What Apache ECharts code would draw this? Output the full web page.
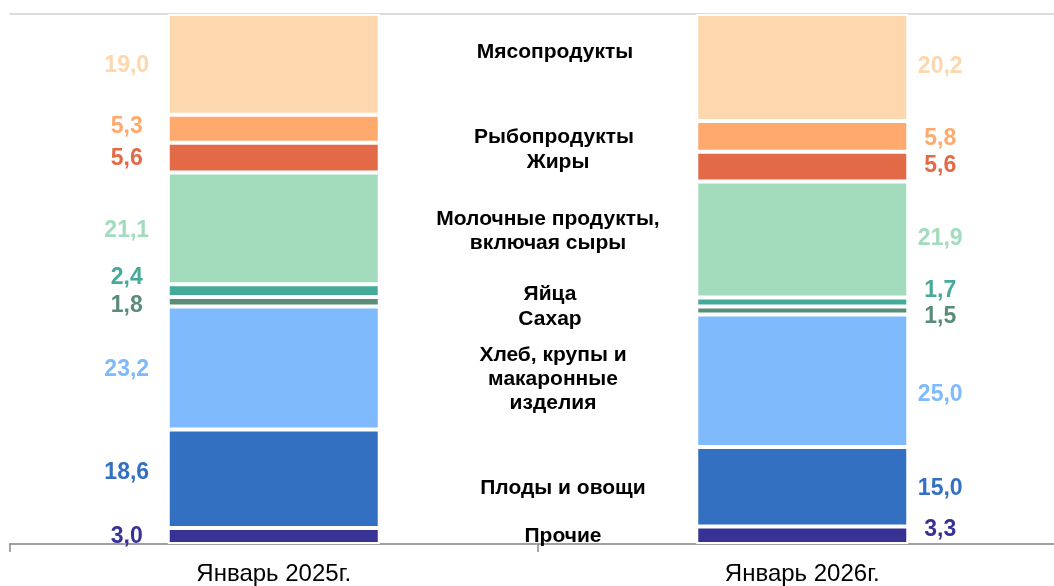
<!DOCTYPE html>
<html><head><meta charset="utf-8">
<script src="https://cdn.jsdelivr.net/npm/echarts@6/dist/echarts.min.js"></script>
<style>html,body{margin:0;padding:0;background:#fff;overflow:hidden}#c{width:1067px;height:586px}</style>
</head><body><div id="c"></div>
<script>
// Data (stack order bottom -> top)
const periods = ['Январь 2025г.', 'Январь 2026г.'];
const groups = ['Прочие', 'Плоды и овощи', 'Хлеб, крупы и\nмакаронные\nизделия', 'Сахар', 'Яйца',
  'Молочные продукты,\nвключая сыры', 'Жиры', 'Рыбопродукты', 'Мясопродукты'];
const v2025 = [3.0, 18.6, 23.2, 1.8, 2.4, 21.1, 5.6, 5.3, 19.0];
const v2026 = [3.3, 15.0, 25.0, 1.5, 1.7, 21.9, 5.6, 5.8, 20.2];

// Styles
const colors = ['#373293', '#3470C2', '#7EBAFC', '#5A8C78', '#46AA98', '#A3DCBD', '#E36A47', '#FEA96E', '#FDD7AD'];
const leftDy = [1, -6, 2, 4, -13, 2, 1, -2, 1];
const rightDy = [-6, 2, 14, 6, -11, -1, -1, 2, -1];
const nameDx = [25, 25, 15, 12, 12, 10, 20, 16, 17];
const nameDy = [1, 5, 5, 13, -2, -3, 0, 5, -14];
const FONT = "'Liberation Sans', Arial, sans-serif";

const fmt = v => v.toFixed(1).replace('.', ',');
function cum(arr) { const r = []; let s = 0; arr.forEach(v => { r.push(s + v / 2); s += v; }); return r; }
const mid25 = cum(v2025), mid26 = cum(v2026);

const chart = echarts.init(document.getElementById('c'));
const series = groups.map((g, k) => ({
  type: 'bar', name: g, stack: 'all', barWidth: 212,
  itemStyle: { color: colors[k], borderColor: '#fff', borderWidth: 2 },
  data: [
    { value: v2025[k], label: { show: true, position: 'left', distance: 41, align: 'center', verticalAlign: 'middle',
      offset: [0, leftDy[k]], formatter: p => fmt(p.value), color: colors[k], fontSize: 23, fontWeight: 'bold', fontFamily: FONT } },
    { value: v2026[k], label: { show: true, position: 'right', distance: 32, align: 'center', verticalAlign: 'middle',
      offset: [0, rightDy[k]], formatter: p => fmt(p.value), color: colors[k], fontSize: 23, fontWeight: 'bold', fontFamily: FONT } }
  ]
}));
series.push({
  type: 'custom', silent: true, z: 5,
  data: groups.map((g, k) => [0, mid25[k]]),
  renderItem: (params, api) => {
    const k = params.dataIndex;
    const a = api.coord([0, mid25[k]]), b = api.coord([1, mid26[k]]);
    return {
      type: 'text',
      x: (a[0] + b[0]) / 2 + nameDx[k],
      y: (a[1] + b[1]) / 2 + nameDy[k],
      style: { text: groups[k], fill: '#000', font: "bold 21px " + FONT, align: 'center', verticalAlign: 'middle', lineHeight: 24 }
    };
  }
});

chart.setOption({
  animation: false,
  grid: { left: 9.5, top: 14, right: 0.5, bottom: 41, containLabel: false },
  xAxis: {
    type: 'category', data: periods,
    axisLine: { lineStyle: { color: '#8c8c8c', width: 1.5 } },
    axisTick: { show: true, length: 8, lineStyle: { color: '#8c8c8c', width: 1.5 } },
    axisLabel: { color: '#000', fontSize: 24, fontFamily: FONT, margin: 18 }
  },
  yAxis: {
    type: 'value', min: 0, max: 100, interval: 100,
    axisLabel: { show: false }, axisLine: { show: false }, axisTick: { show: false },
    splitLine: { show: true, lineStyle: { color: '#dcdcdc', width: 2 } }
  },
  series
});
</script></body></html>
